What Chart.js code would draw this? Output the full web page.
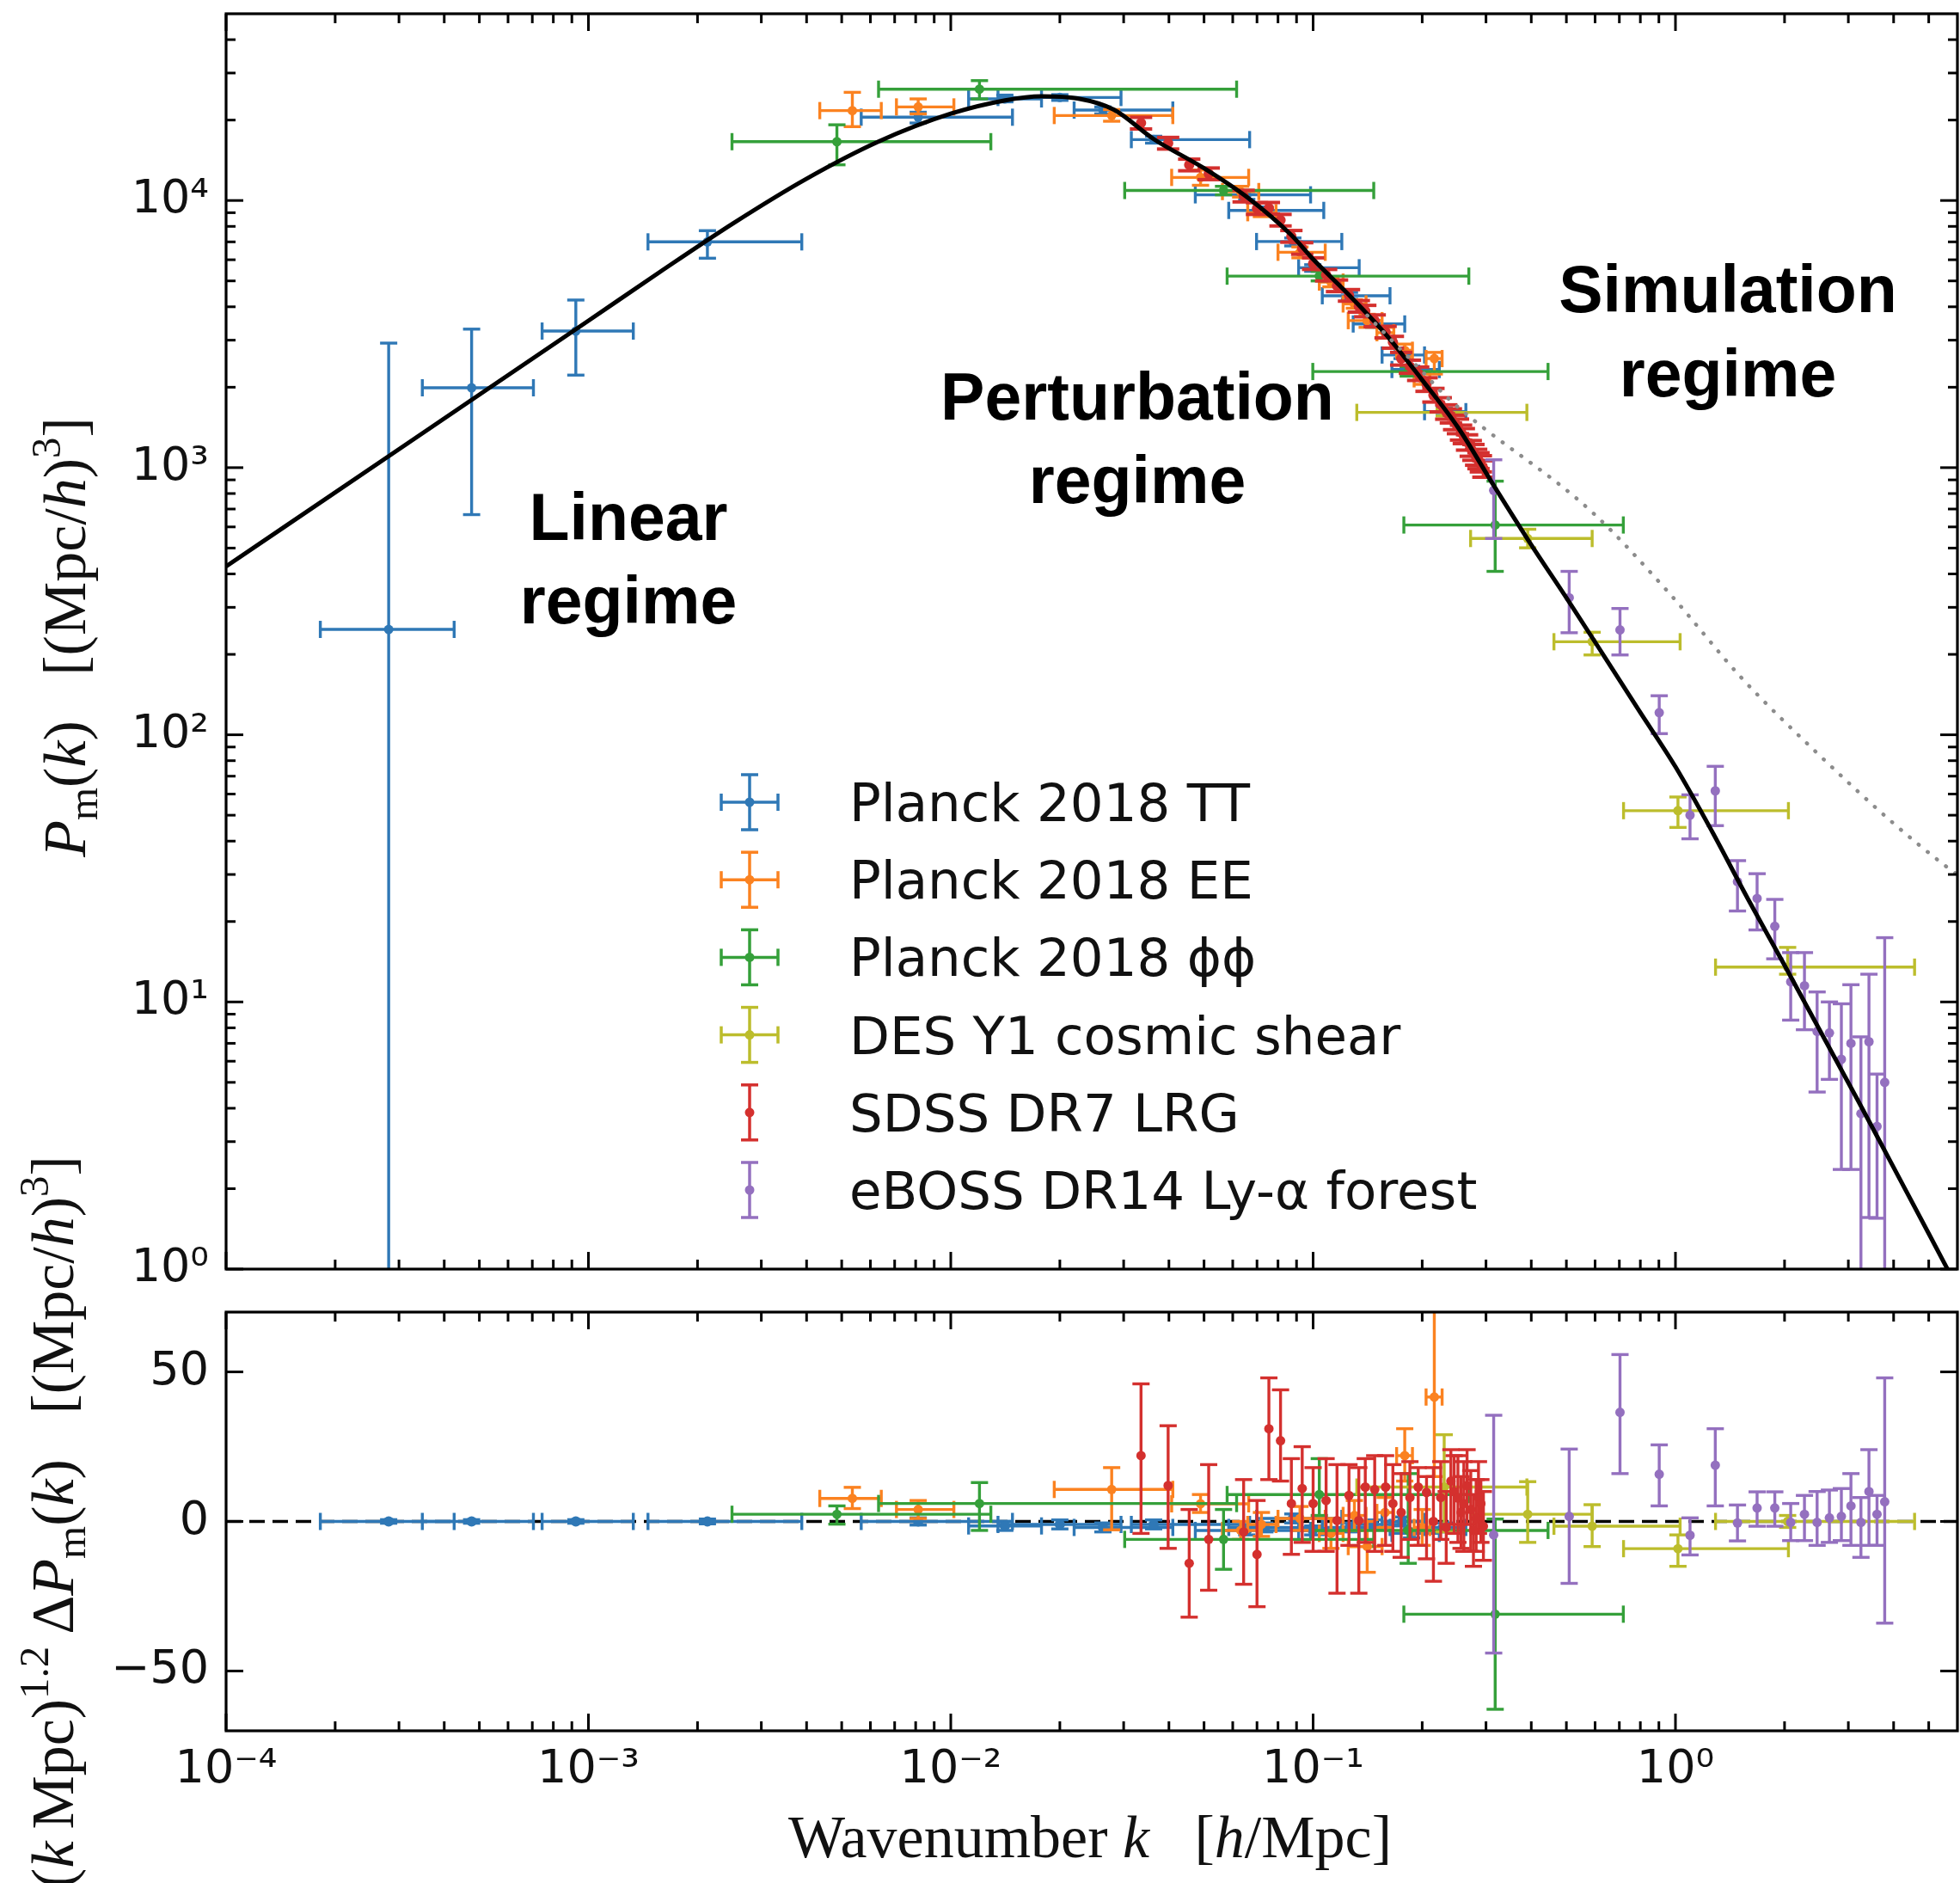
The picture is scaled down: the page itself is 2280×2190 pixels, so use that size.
<!DOCTYPE html>
<html>
<head>
<meta charset="utf-8">
<title>Matter power spectrum</title>
<script src="https://cdn.jsdelivr.net/npm/chart.js@4.4.1/dist/chart.umd.min.js"></script>
<style>
  html, body { margin:0; padding:0; background:#ffffff; }
  #wrap { position:relative; width:2280px; height:2190px; overflow:hidden; background:#ffffff; }
  canvas { position:absolute; left:0; }
  #cTop { top:-54px; }
  #cBot { top:1250px; }
</style>
</head>
<body>
<div id="wrap">
  <canvas id="cTop" width="2280" height="1600"></canvas>
  <canvas id="cBot" width="2280" height="940"></canvas>
</div>
<script>
// ---------------- DATA ----------------
const seriesLabels = ['Planck 2018 TT', 'Planck 2018 EE', 'Planck 2018 \u03D5\u03D5', 'DES Y1 cosmic shear', 'SDSS DR7 LRG', 'eBOSS DR14 Ly-\u03B1 forest'];

// Axis ticks
const xMajorTicks = [1e-4, 1e-3, 1e-2, 1e-1, 1];
const xTickLabels = ['10\u207B\u2074', '10\u207B\u00B3', '10\u207B\u00B2', '10\u207B\u00B9', '10\u2070'];
const yTopTicks = [1, 10, 100, 1000, 10000];
const yTopTickLabels = ['10\u2070', '10\u00B9', '10\u00B2', '10\u00B3', '10\u2074'];
const yBotTicks = [-50, 0, 50];
const yBotTickLabels = ['\u221250', '0', '50'];

// Linear theory curve
const theoryK = [1e-4, 3.16e-4, 1e-3, 1.585e-3, 2.512e-3, 3.981e-3, 6.31e-3, 1e-2, 1.413e-2, 1.778e-2, 2.239e-2, 2.818e-2, 3.631e-2, 5.012e-2, 6.607e-2, 8.71e-2, 0.1, 0.1259, 0.1585, 0.1995, 0.2512, 0.3162, 0.3981, 0.5012, 0.631, 0.794, 1.0, 1.259, 1.585, 1.995, 2.512, 3.162, 3.981, 5.012, 6.0];
const theoryP = [427, 1230, 3548, 5433, 8222, 12020, 16600, 21130, 23710, 24550, 24100, 21880, 16980, 13180, 10230, 7413, 6026, 4416, 3162, 2138, 1413, 851, 519, 324, 200, 123, 75.9, 43.7, 24.3, 13.8, 7.76, 4.37, 2.43, 1.35, 0.85];
// Non-linear (dotted) curve
const nonlinK = [0.141, 0.2, 0.235, 0.589, 0.95, 1.53, 2.47, 3.99, 5.61, 6.0];
const nonlinP = [3715, 2290, 1825, 681, 345, 162, 85, 46.7, 32, 30];
// Zero reference line of residual panel
const zeroK = [1e-4, 6.0];
const zeroV = [0, 0];

// Planck 2018 TT
const ttK   = [2.81e-4, 4.76e-4, 9.23e-4, 2.13e-3, 8.13e-3, 1.41e-2, 2.0e-2, 2.63e-2, 3.63e-2, 6.56e-2, 7.36e-2, 8.79e-2, 9.98e-2, 0.126, 0.147, 0.176, 0.187, 0.230];
const ttKLo = [1.82e-4, 3.48e-4, 7.45e-4, 1.46e-3, 5.66e-3, 1.12e-2, 1.35e-2, 2.19e-2, 3.15e-2, 4.73e-2, 5.85e-2, 6.98e-2, 9.12e-2, 0.106, 0.129, 0.155, 0.165, 0.203];
const ttKHi = [4.26e-4, 7.05e-4, 1.33e-3, 3.88e-3, 1.48e-2, 1.78e-2, 2.95e-2, 4.10e-2, 6.68e-2, 9.84e-2, 0.107, 0.120, 0.134, 0.163, 0.179, 0.203, 0.223, 0.264];
const ttP   = [248, 1990, 3245, 7000, 20500, 24000, 24300, 21800, 16900, 10500, 9180, 7020, 5600, 4400, 3450, 2640, 2330, 1620];
const ttPLo = [0.1, 667, 2220, 6080, 19500, 23400, 23700, 21100, 16400, 10100, 8900, 6760, 5430, 4270, 3350, 2560, 2260, 1570];
const ttPHi = [2925, 3300, 4240, 7710, 21400, 24800, 24900, 22400, 17400, 10800, 9460, 7240, 5750, 4530, 3550, 2720, 2400, 1670];
const ttRes   = [0, 0, 0, 0, 0, -1.5, -1, -2, -1, -3, -2, 1, -3, -2, -1, 0, -4, -2];
const ttResLo = [-0.6, -0.6, -0.6, -0.8, -1.2, -3, -2.5, -3.5, -2.5, -4.5, -3.5, -0.5, -4.5, -3.5, -2.5, -1.5, -5.5, -3.5];
const ttResHi = [0.6, 0.6, 0.6, 0.8, 1.2, 0, 0.5, -0.5, 0.5, -1.5, -0.5, 2.5, -1.5, -0.5, 0.5, 1.5, -2.5, -0.5];

// Planck 2018 EE
const eeK   = [5.35e-3, 8.13e-3, 2.78e-2, 4.89e-2, 6.31e-2, 7.2e-2, 9.2e-2, 0.112, 0.130, 0.141, 0.158, 0.179, 0.200, 0.216];
const eeKLo = [4.35e-3, 7.08e-3, 1.93e-2, 4.07e-2, 5.62e-2, 6.6e-2, 8.0e-2, 0.104, 0.121, 0.125, 0.150, 0.170, 0.190, 0.205];
const eeKHi = [6.43e-3, 1.02e-2, 4.10e-2, 6.64e-2, 7.08e-2, 7.9e-2, 0.108, 0.121, 0.140, 0.155, 0.167, 0.188, 0.210, 0.227];
const eeP   = [21700, 22400, 20800, 12200, 10800, 9000, 6400, 4950, 4100, 3550, 3200, 2750, 2150, 2560];
const eePLo = [18900, 21100, 19800, 11400, 10300, 8700, 6100, 4750, 3950, 3350, 3050, 2600, 2050, 2240];
const eePHi = [25400, 24000, 21900, 13000, 11300, 9300, 6700, 5150, 4250, 3750, 3350, 2900, 2250, 2700];
const eeRes   = [7.7, 4, 10.7, 5.9, -3, -1, 1, -4, 2, -8.4, 3, 22, -2, 41.6];
const eeResLo = [4.3, 1, -2.8, 3, -6, -5, -3, -9, -3, -17, -2, 13.5, -8, 15];
const eeResHi = [11.4, 7, 18, 9, 0, 3, 5, 1, 7, 0, 8, 31, 4, 75];

// Planck 2018 phi-phi (lensing)
const ppK   = [4.85e-3, 1.20e-2, 5.66e-2, 0.104, 0.183, 0.318];
const ppKLo = [2.49e-3, 6.32e-3, 3.02e-2, 0.0579, 0.0998, 0.178];
const ppKHi = [1.29e-2, 6.15e-2, 0.147, 0.269, 0.445, 0.718];
const ppP   = [16600, 26100, 10900, 5210, 2290, 610];
const ppPLo = [13600, 24000, 10500, 5000, 2200, 409];
const ppPHi = [19200, 28100, 11300, 5430, 2390, 890];
const ppRes   = [2.4, 6, -6, 9, -3, -31];
const ppResLo = [-0.9, -3, -16, 2, -14, -62.8];
const ppResHi = [5.2, 13, 4, 21, 16, 0.8];

// DES Y1 cosmic shear
const desK   = [0.230, 0.391, 0.589, 1.016, 2.04];
const desKLo = [0.132, 0.272, 0.462, 0.719, 1.29];
const desKHi = [0.389, 0.589, 1.03, 2.05, 4.57];
const desP   = [1610, 543, 223, 52, 13.5];
const desPLo = [1560, 501, 199, 45, 12.7];
const desPHi = [1660, 588, 242, 58.5, 16];
const desRes   = [11.5, 2.4, -1.6, -9.1, 0];
const desResLo = [-3.5, -7, -8.4, -15, -2];
const desResHi = [29, 13.3, 5.6, -4.5, 2];

// SDSS DR7 LRG
const sdssK    = [0.0335, 0.0398, 0.0455, 0.0515, 0.0643, 0.070, 0.0755, 0.0813, 0.0871, 0.0933, 0.100, 0.1086, 0.1164, 0.1256, 0.1337, 0.1393, 0.1479, 0.1585, 0.166, 0.175, 0.185, 0.195, 0.2056, 0.2148, 0.225, 0.233, 0.240, 0.245, 0.251, 0.256, 0.2606, 0.266, 0.2723, 0.277, 0.2818, 0.286, 0.2904, 0.2951];
const sdssP    = [19500, 16400, 13600, 12600, 10400, 9340, 9360, 8450, 7350, 6620, 5810, 5260, 4800, 4420, 4020, 3860, 3550, 3220, 2950, 2560, 2390, 2250, 2050, 1870, 1722, 1618, 1565, 1479, 1430, 1355, 1315, 1245, 1183, 1143, 1096, 1064, 1036, 991];
const sdssPErr = [980, 820, 680, 630, 520, 470, 470, 420, 370, 330, 290, 260, 240, 220, 200, 190, 180, 160, 150, 140, 135, 130, 120, 110, 105, 100, 95, 92, 90, 87, 85, 82, 80, 78, 75, 73, 72, 70];
const sdssRes   = [22, 12, -14, -6, -3.5, -11, 31, 27, 6, 11, 6, 7, 0.3, 8.7, 0.3, 11.5, 10.7, 11.5, 6, 3, 8, 11.5, 9.7, 0, 8, -2, 13.5, 10, 7.8, 3, 6, 12, 4, -3, 1, 8, 6, -1.6];
const sdssResLo = [-4, -9, -32, -23, -21, -28.5, 14, 13.5, -11, -7, -10, -10, -24, -8, -24, -7, -10, -8, -10, -12, -6, -8, -12.5, -20, -6, -14, -1, -4, -7, -9, -10, -1, -10, -15, -10, -4, -7, -13];
const sdssResHi = [46, 32, 4, 19, 14, 7, 48, 44, 21, 25, 18, 21, 19, 19, 18, 21, 22, 22, 19, 16, 20, 18, 15, 18, 20, 10, 24, 22, 22, 15, 20, 24, 17, 9, 14, 20, 14, 10];

// eBOSS DR14 Ly-alpha forest
const ebK   = [0.315, 0.509, 0.703, 0.902, 1.097, 1.288, 1.483, 1.68, 1.88, 2.08, 2.27, 2.46, 2.66, 2.87, 3.05, 3.25, 3.42, 3.6, 3.78];
const ebP   = [822, 326, 247, 121, 50, 61.7, 28.2, 24.4, 19.2, 11.9, 11.5, 7.76, 7.66, 6.1, 7.0, 3.82, 7.1, 3.42, 5.0];
const ebPLo = [543, 241, 199, 101, 40.8, 45.7, 21.9, 18.6, 14.5, 8.55, 7.87, 4.6, 5.13, 2.36, 2.36, 0.5, 1.56, 1.55, 0.5];
const ebPHi = [1070, 409, 297, 140, 59.6, 76.2, 33.8, 30.2, 24.2, 15.3, 15.3, 10.9, 10, 9.84, 11.6, 7.4, 12.7, 5.37, 17.4];
const ebRes   = [-4.5, 1.7, 36.5, 15.8, -4.6, 18.8, -0.5, 4.5, 4.5, -0.3, 2.4, -0.3, 1.2, 1.7, 5.2, -0.3, 10, 2.4, 6.6];
const ebResLo = [-44, -20.7, 16, 5.2, -11.2, 5.2, -6.5, -1.6, -1.6, -6.4, -6.4, -8, -7, -6.4, -8, -12, -8, -8, -34];
const ebResHi = [35.5, 24.2, 55.8, 25.6, 1.2, 31, 5.5, 9.9, 9.9, 6, 8.7, 10, 10.5, 11, 16, 8, 24, 8.7, 48];

// ---------------- STYLE ----------------
const COL = ['#2f78b6', '#fb8220', '#35a03a', '#bcbd2c', '#d4302e', '#9470bf'];
const FONT_TICK = 'DejaVu Sans';
const FONT_SERIF = 'Liberation Serif';
const TOP_SHIFT = 54;   // top canvas is placed 54px above the page top

// ---------------- PLUGINS ----------------
function seg(ctx, x1, y1, x2, y2) { ctx.beginPath(); ctx.moveTo(x1, y1); ctx.lineTo(x2, y2); ctx.stroke(); }

const errorBarPlugin = {
  id: 'errbars',
  beforeDatasetDraw(chart, args) {
    const ds = chart.data.datasets[args.index];
    const eb = ds.errorBars;
    if (!eb) return;
    const ctx = chart.ctx, a = chart.chartArea;
    const xs = chart.scales.x, ys = chart.scales.y;
    ctx.save();
    ctx.beginPath(); ctx.rect(a.left, a.top, a.right - a.left, a.bottom - a.top); ctx.clip();
    ctx.strokeStyle = ds.borderColor; ctx.lineWidth = eb.lineWidth; ctx.lineCap = 'butt';
    const c = eb.cap;
    ds.data.forEach((p, i) => {
      const px = xs.getPixelForValue(p.x), py = ys.getPixelForValue(p.y);
      if (eb.xLo) {
        const x1 = xs.getPixelForValue(eb.xLo[i]), x2 = xs.getPixelForValue(eb.xHi[i]);
        seg(ctx, x1, py, x2, py); seg(ctx, x1, py - c, x1, py + c); seg(ctx, x2, py - c, x2, py + c);
      }
      let y1, y2;
      if (eb.yLo) { y1 = ys.getPixelForValue(eb.yLo[i]); y2 = ys.getPixelForValue(eb.yHi[i]); }
      else if (eb.yErr) { y1 = ys.getPixelForValue(p.y - eb.yErr[i]); y2 = ys.getPixelForValue(p.y + eb.yErr[i]); }
      if (y1 !== undefined) { seg(ctx, px, y1, px, y2); seg(ctx, px - c, y1, px + c, y1); seg(ctx, px - c, y2, px + c, y2); }
    });
    ctx.restore();
  }
};

const framePlugin = {
  id: 'frame',
  afterDatasetsDraw(chart, args, o) {
    const ctx = chart.ctx, a = chart.chartArea, x = chart.scales.x, y = chart.scales.y;
    ctx.save();
    ctx.strokeStyle = '#000'; ctx.lineWidth = 3; ctx.lineCap = 'butt';
    const majL = 20, minL = 11;
    const xt = [];
    o.xMajor.forEach(v => xt.push([v, majL]));
    o.xMajor.forEach(d => { for (let m = 2; m <= 9; m++) { const v = m * d; if (v < x.max && v > x.min) xt.push([v, minL]); } });
    xt.forEach(([v, L]) => { const px = x.getPixelForValue(v); seg(ctx, px, a.bottom, px, a.bottom - L); seg(ctx, px, a.top, px, a.top + L); });
    const yt = [];
    o.yMajor.forEach(v => yt.push([v, majL]));
    if (o.yLog) o.yMajor.forEach(d => { for (let m = 2; m <= 9; m++) { const v = m * d; if (v < y.max && v > y.min) yt.push([v, minL]); } });
    yt.forEach(([v, L]) => { const py = y.getPixelForValue(v); seg(ctx, a.left, py, a.left + L, py); seg(ctx, a.right, py, a.right - L, py); });
    ctx.lineWidth = 3.2;
    ctx.strokeRect(a.left, a.top, a.right - a.left, a.bottom - a.top);
    ctx.restore();
  }
};

function drawRich(ctx, r) {
  const base = r.size;
  const fontFor = s => (s.it ? 'italic ' : '') + Math.round((s.sub || s.sup) ? base * 0.7 : base) + 'px "' + FONT_SERIF + '"';
  const widths = r.segs.map(s => { ctx.font = fontFor(s); return ctx.measureText(s.t).width; });
  const total = widths.reduce((p, q) => p + q, 0);
  ctx.save();
  ctx.translate(r.x, r.y);
  ctx.rotate(r.rotate || 0);
  ctx.scale(r.xScale || 1, 1);
  ctx.fillStyle = '#111'; ctx.textAlign = 'left'; ctx.textBaseline = 'alphabetic';
  let xx = -total / 2;
  r.segs.forEach((s, i) => {
    ctx.font = fontFor(s);
    const dy = s.sub ? base * 0.2 : (s.sup ? -base * 0.42 : 0);
    ctx.fillText(s.t, xx, dy);
    xx += widths[i];
  });
  ctx.restore();
}

function drawLegend(ctx, L) {
  L.items.forEach((it, i) => {
    const cy = L.y0 + i * L.dy, cx = L.iconX;
    ctx.save();
    ctx.strokeStyle = it.color; ctx.fillStyle = it.color; ctx.lineWidth = 3.5;
    seg(ctx, cx, cy - 32, cx, cy + 32); seg(ctx, cx - 10, cy - 32, cx + 10, cy - 32); seg(ctx, cx - 10, cy + 32, cx + 10, cy + 32);
    if (it.xerr) { seg(ctx, cx - 33, cy, cx + 33, cy); seg(ctx, cx - 33, cy - 10, cx - 33, cy + 10); seg(ctx, cx + 33, cy - 10, cx + 33, cy + 10); }
    ctx.beginPath(); ctx.arc(cx, cy, 5.5, 0, Math.PI * 2); ctx.fill();
    ctx.fillStyle = '#111'; ctx.font = '61px "' + FONT_TICK + '"'; ctx.textAlign = 'left'; ctx.textBaseline = 'alphabetic';
    ctx.fillText(it.label, L.textX, cy + 22);
    ctx.restore();
  });
}

const textPlugin = {
  id: 'texts',
  afterDraw(chart, args, o) {
    const ctx = chart.ctx;
    (o.rich || []).forEach(r => drawRich(ctx, r));
    (o.labels || []).forEach(l => {
      ctx.save(); ctx.font = l.font; ctx.fillStyle = '#000'; ctx.textAlign = 'center'; ctx.textBaseline = 'alphabetic';
      ctx.fillText(l.text, l.x, l.y); ctx.restore();
    });
    if (o.legend) drawLegend(ctx, o.legend);
  }
};

// ---------------- DATASETS ----------------
function pts(k, v) { return k.map((x, i) => ({ x: x, y: v[i] })); }
function series(label, color, k, v, eb, order, radius) {
  return {
    label: label, data: pts(k, v), showLine: false,
    pointRadius: radius || 5.5, pointHoverRadius: radius || 5.5, pointBorderWidth: 0,
    pointBackgroundColor: color, pointBorderColor: color,
    borderColor: color, backgroundColor: color,
    errorBars: Object.assign({ lineWidth: 3.4, cap: 10 }, eb), order: order, clip: 0
  };
}

const topDatasets = [
  series(seriesLabels[0], COL[0], ttK, ttP, { xLo: ttKLo, xHi: ttKHi, yLo: ttPLo, yHi: ttPHi }, 6),
  series(seriesLabels[1], COL[1], eeK, eeP, { xLo: eeKLo, xHi: eeKHi, yLo: eePLo, yHi: eePHi }, 5),
  series(seriesLabels[2], COL[2], ppK, ppP, { xLo: ppKLo, xHi: ppKHi, yLo: ppPLo, yHi: ppPHi }, 4),
  series(seriesLabels[3], COL[3], desK, desP, { xLo: desKLo, xHi: desKHi, yLo: desPLo, yHi: desPHi }, 3),
  series(seriesLabels[4], COL[4], sdssK, sdssP, { yErr: sdssPErr, cap: 13, lineWidth: 4 }, 2, 6),
  series(seriesLabels[5], COL[5], ebK, ebP, { yLo: ebPLo, yHi: ebPHi }, 1),
  { label: 'nonlinear', data: pts(nonlinK, nonlinP), showLine: true, pointRadius: 0, borderColor: '#8c8c8c', borderWidth: 4.5,
    borderDash: [0.5, 13], borderCapStyle: 'round', cubicInterpolationMode: 'monotone', order: 0, clip: 0 },
  { label: 'linear theory', data: pts(theoryK, theoryP), showLine: true, pointRadius: 0, borderColor: '#000', borderWidth: 5,
    cubicInterpolationMode: 'monotone', order: 0, clip: 0 }
];

const botDatasets = [
  { label: 'zero', data: pts(zeroK, zeroV), showLine: true, pointRadius: 0, borderColor: '#000', borderWidth: 3.5,
    borderDash: [18, 9], order: 10, clip: 0 },
  series(seriesLabels[0], COL[0], ttK, ttRes, { xLo: ttKLo, xHi: ttKHi, yLo: ttResLo, yHi: ttResHi }, 6, 6),
  series(seriesLabels[1], COL[1], eeK, eeRes, { xLo: eeKLo, xHi: eeKHi, yLo: eeResLo, yHi: eeResHi }, 5),
  series(seriesLabels[2], COL[2], ppK, ppRes, { xLo: ppKLo, xHi: ppKHi, yLo: ppResLo, yHi: ppResHi }, 4),
  series(seriesLabels[3], COL[3], desK, desRes, { xLo: desKLo, xHi: desKHi, yLo: desResLo, yHi: desResHi }, 3),
  series(seriesLabels[4], COL[4], sdssK, sdssRes, { yLo: sdssResLo, yHi: sdssResHi }, 2),
  series(seriesLabels[5], COL[5], ebK, ebRes, { yLo: ebResLo, yHi: ebResHi }, 1)
];

// ---------------- CHARTS ----------------
const tickFont = { family: FONT_TICK, size: 54 };
function labelFrom(vals, labels) { return v => { const i = vals.indexOf(v); return i >= 0 ? labels[i] : ''; }; }

const annoFont = 'bold 77px "Liberation Sans"';
const S = TOP_SHIFT;

new Chart(document.getElementById('cTop'), {
  type: 'scatter',
  data: { datasets: topDatasets },
  options: {
    responsive: false, animation: false, devicePixelRatio: 1, events: [],
    layout: { padding: { top: 16 + S, right: 3, left: 0, bottom: 0 }, autoPadding: false },
    plugins: {
      legend: { display: false }, tooltip: { enabled: false },
      frame: { xMajor: xMajorTicks, yMajor: yTopTicks, yLog: true },
      texts: {
        rich: [{
          segs: [{ t: 'P', it: 1 }, { t: 'm', sub: 1 }, { t: '(' }, { t: 'k', it: 1 }, { t: ')' }, { t: '   [(Mpc/' }, { t: 'h', it: 1 }, { t: ')' }, { t: '3', sup: 1 }, { t: ']' }],
          x: 99, y: 741 + S, rotate: -Math.PI / 2, size: 70, xScale: 1.0
        }],
        labels: [
          { text: 'Linear', x: 731, y: 628 + S, font: annoFont },
          { text: 'regime', x: 731, y: 725 + S, font: annoFont },
          { text: 'Perturbation', x: 1323, y: 488 + S, font: annoFont },
          { text: 'regime', x: 1323, y: 585 + S, font: annoFont },
          { text: 'Simulation', x: 2010, y: 363 + S, font: annoFont },
          { text: 'regime', x: 2010, y: 461 + S, font: annoFont }
        ],
        legend: {
          iconX: 872, textX: 988, y0: 933 + S, dy: 90.2,
          items: seriesLabels.map((s, i) => ({ label: s, color: COL[i], xerr: i < 4 }))
        }
      }
    },
    scales: {
      x: {
        type: 'logarithmic', min: 1e-4, max: 6,
        grid: { display: false, drawTicks: false }, border: { display: false },
        ticks: { display: false },
        afterBuildTicks: s => { s.ticks = xMajorTicks.map(v => ({ value: v })); },
        afterFit: s => { s.height = 1600 - 1476 - S; }
      },
      y: {
        type: 'logarithmic', min: 1, max: 5e4,
        grid: { display: false, drawTicks: false }, border: { display: false },
        ticks: { font: tickFont, color: '#111', padding: 20, autoSkip: false, callback: labelFrom(yTopTicks, yTopTickLabels) },
        afterBuildTicks: s => { s.ticks = yTopTicks.map(v => ({ value: v })); },
        afterFit: s => { s.width = 263; }
      }
    }
  },
  plugins: [errorBarPlugin, framePlugin, textPlugin]
});

new Chart(document.getElementById('cBot'), {
  type: 'scatter',
  data: { datasets: botDatasets },
  options: {
    responsive: false, animation: false, devicePixelRatio: 1, events: [],
    layout: { padding: { top: 276, right: 3, left: 0, bottom: 0 }, autoPadding: false },
    plugins: {
      legend: { display: false }, tooltip: { enabled: false },
      frame: { xMajor: xMajorTicks, yMajor: yBotTicks, yLog: false },
      texts: {
        rich: [
          {
            segs: [{ t: '(' }, { t: 'k', it: 1 }, { t: '\u2009Mpc)' }, { t: '1.2', sup: 1 }, { t: '\u2009\u0394' }, { t: 'P', it: 1 }, { t: 'm', sub: 1 }, { t: '(' }, { t: 'k', it: 1 }, { t: ')' }, { t: '   [(Mpc/' }, { t: 'h', it: 1 }, { t: ')' }, { t: '3', sup: 1 }, { t: ']' }],
            x: 85, y: 520, rotate: -Math.PI / 2, size: 70, xScale: 1.0
          },
          {
            segs: [{ t: 'Wavenumber ' }, { t: 'k', it: 1 }, { t: '   [' }, { t: 'h', it: 1 }, { t: '/Mpc]' }],
            x: 1268, y: 910, rotate: 0, size: 70, xScale: 1.0
          }
        ]
      }
    },
    scales: {
      x: {
        type: 'logarithmic', min: 1e-4, max: 6,
        grid: { display: false, drawTicks: false }, border: { display: false },
        ticks: { font: tickFont, color: '#111', padding: 14, autoSkip: false, maxRotation: 0, minRotation: 0, callback: labelFrom(xMajorTicks, xTickLabels) },
        afterBuildTicks: s => { s.ticks = xMajorTicks.map(v => ({ value: v })); },
        afterFit: s => { s.height = 177; }
      },
      y: {
        type: 'linear', min: -70, max: 70,
        grid: { display: false, drawTicks: false }, border: { display: false },
        ticks: { font: tickFont, color: '#111', padding: 20, autoSkip: false, callback: labelFrom(yBotTicks, yBotTickLabels) },
        afterBuildTicks: s => { s.ticks = yBotTicks.map(v => ({ value: v })); },
        afterFit: s => { s.width = 263; }
      }
    }
  },
  plugins: [errorBarPlugin, framePlugin, textPlugin]
});
</script>
</body>
</html>
